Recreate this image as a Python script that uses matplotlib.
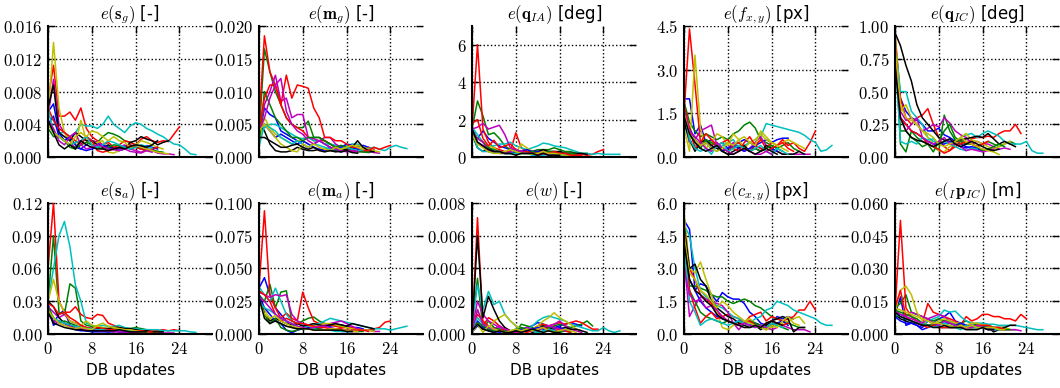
import matplotlib
matplotlib.use("Agg")
import matplotlib.pyplot as plt
from matplotlib.ticker import FuncFormatter, FixedLocator

plt.rcParams['mathtext.fontset'] = 'cm'
plt.rcParams['font.family'] = ['DejaVu Sans']

# colour order of the series (classic matplotlib cycle, used twice)
line_colors = ['#0000ff', '#008000', '#ff0000', '#00bfbf', '#bf00bf', '#bfbf00', '#000000',
               '#0000ff', '#008000', '#ff0000', '#00bfbf', '#bf00bf', '#bfbf00', '#000000']

x_ticks = [0, 8, 16, 24]
x_label = 'DB updates'

# ---- panel titles ----
titles = [r'$e(\mathbf{s}_g)$ [-]', r'$e(\mathbf{m}_g)$ [-]', r'$e(\mathbf{q}_{IA})$ [deg]',
          r'$e(f_{x,y})$ [px]', r'$e(\mathbf{q}_{IC})$ [deg]',
          r'$e(\mathbf{s}_a)$ [-]', r'$e(\mathbf{m}_a)$ [-]', r'$e(w)$ [-]',
          r'$e(c_{x,y})$ [px]', r'$e({}_I\mathbf{p}_{IC})$ [m]']

# ---- y tick values per panel ----
y_ticks_sg = [0, 0.004, 0.008, 0.012, 0.016]
y_ticks_mg = [0, 0.005, 0.010, 0.015, 0.020]
y_ticks_qia = [0, 2, 4, 6]
y_ticks_fxy = [0, 1.5, 3.0, 4.5]
y_ticks_qic = [0, 0.25, 0.50, 0.75, 1.00]
y_ticks_sa = [0, 0.03, 0.06, 0.09, 0.12]
y_ticks_ma = [0, 0.025, 0.050, 0.075, 0.100]
y_ticks_w = [0, 0.002, 0.004, 0.006, 0.008]
y_ticks_cxy = [0, 1.5, 3.0, 4.5, 6.0]
y_ticks_pic = [0, 0.015, 0.030, 0.045, 0.060]

# ---- series (unit factor per panel) ----
unit_sg = 1e-3
sg = [
    [5.5,6.5,3,2,1.5,1.2,1,1.5,2,1.8,1.2,1,1.1,1,1.3,1.5,1.2,1,1.4,1.2,1],
    [4,3,2.5,2,1.5,1.2,2,2.5,2,1.8,2.5,3,2.8,2.5,2,1.8,1.5,1.2,1,0.8,0.7,0.6],
    [7,11.2,5,5,5.5,4.5,6,3.5,2.5,2,1.5,1.8,1.2,1.5,2,1.8,1.5,2.2,2.5,2,1.8,2,1.9,2.8,3.7],
    [5,4.5,3,3,2.5,3,4,3.8,3.8,3.5,4,5,4,3.5,3,3.8,4.2,4,3.5,3.2,2.8,2.5,2,1.6,1.5,1,0.4,0.3],
    [5,9.5,4,3,2,1,1.5,2.5,2,1.8,1.5,1.2,1,1.2,1.5,1,0.8,0.6,0.9,0.8,0.5,0.4,0.4,0.3],
    [5,14,6,3,2,1.5,4.5,2,1.5,1.8,2,0.6,0.5,0.8,1,1.2,1.5,2,1.8,1.5,1.2,1],
    [6,8.8,3,2.5,2,3,2.5,2,2,1.5,1.2,1.5,1,1.2,1,1.8,2,2.5,2.2,2,1.5,1.8,2],
    [4,5,2.5,2,2.5,1.5,1,0.8,1,1.2,1.5,1.2,1,0.8,1,1.2,1.5,1.3,1,0.9,1.2],
    [3.5,2.5,2.5,2,1.2,1,1.5,1.8,1.5,1.2,1,1.2,1.5,1.4,1.2,1,1.2,1,0.8,0.8,0.7],
    [6,4.5,3.5,3,2.5,2,1.5,2.5,2,0.8,0.6,0.8,1,1.2,1,1.5,1.2,1,0.8,1,1.2],
    [6,3,2.5,2,1.5,1.8,2,2.5,1.5,1.2,1.5,2,1.8,1.5,1.2,1,1.2,1.5,1.3,1.1],
    [4.5,3.5,2,1.5,2.5,3,1.5,1,1.2,1.5,1.3,1,0.9,0.8,1,0.7,0.6,0.5,0.8,0.6],
    [4,3,2.5,2,1.5,2.5,3,2.5,3.2,3,2.5,2,2.5,2,1.8,1.2,1.5,1.2,1,0.8,0.6,0.5,0.4],
    [4.5,3,1.5,1,1.5,1,2,1.5,1.2,1,1,0.8,1,1.2,1,1.3,1.5,1.4,1.2,1.5,2],
]

unit_mg = 1e-3
mg = [
    [3,7.5,6.5,6,4,3.5,3,2.5,2,1.5,2,2.5,2,1.5,1,0.8,1,1.2,1.5,1.8,1.5],
    [3,16.5,13,10,8,6,5,4.5,4.5,5.5,3,3,2.5,2,1.5,1.2,1,1,0.8,0.8,0.7,0.8],
    [5,18.5,13,11,8,6,5,4.5,4,3,2.5,2.5,2.5,2,1.5,1.2,1,0.8,1,1.2,1.5,1.2],
    [3,4.5,5,5,4.5,4,3.5,3,2.8,3,2.5,2.5,2,2,1.8,1.5,1.8,2,2,1.5,1.3,1.5,1.2,1,1.5,1.8,1.5,1.3],
    [3,8,10,12.5,8.5,9,6,6.5,6.5,3,2.8,2.5,3,3,2,1.5,1.2,1,0.8,1,0.9,0.7,0.6],
    [2,6,4.5,3.5,3,2.5,2,2.5,2.5,2,1.5,1,1.2,1.5,1.2,1,1.2,1.5,1.8,1.5,1.2,1,0.8],
    [5,4,2,1,0.8,0.8,1,1.5,1.2,1,1,1.2,1,1,0.8,1,1.2,1.5,2.5,1.5,1,0.8],
    [4,5,4,3,3.5,3,2.5,2,2.5,2,1.5,1.2,1,1.5,1.2,1.5,2,1.8,1.2,1],
    [2,10,8,6,5,4,3,3,2.5,3,3,3,2.5,2,1.5,1.8,1.5,1.2,1,0.8,0.9],
    [4,9,11,11,8,12.5,9,11,10.8,10.5,7.5,6,3,3,2.5,2.5,2,1.5,1.5,1,1,1.5,1.2,1.5,1.8],
    [1.5,5,4.5,4,3,2.5,2,2.5,2,1.5,2,1.8,1.5,1.2,1,1.3,1.5,1.2,1,1.1],
    [4,6,9,11,12,7,5,4,3.5,2.5,2,2.5,2,1.5,1.2,1,0.8,1,0.9],
    [4,5,4,3,2,1.5,1,0.8,2,1.5,2,1.5,1.2,1,1.5,1.2,1.5,1.8,1.5,1.2],
    [3,3,2.5,2,1.5,1.5,1.8,2,1.5,1.2,1.5,1,0.8,1,0.9,0.8,1,0.7,0.6],
]

unit_qia = 1.0
qia = [
    [1.5,1,1.4,1,0.8,0.6,0.5,0.4,0.4,0.3,0.3,0.2,0.2,0.2,0.3,0.2,0.3,0.2,0.2,0.2],
    [1.5,3,2.2,1.2,1.3,1,0.6,0.4,0.3,0.3,0.3,0.3,0.4,0.4,0.4,0.5,0.4,0.3,0.3,0.2,0.2,0.2],
    [1.5,6,1.5,0.8,0.5,0.4,0.3,0.3,1.3,0.5,0.3,0.2,0.2,0.3,0.2,0.1,0.1,0.2,0.2,0.1,0.15,0.1,0.15,0.3,0.4],
    [1.6,1.2,0.8,0.6,0.6,0.7,0.7,0.8,0.6,0.5,0.4,0.5,0.6,0.75,0.7,0.6,0.55,0.5,0.4,0.3,0.2,0.2,0.15,0.2,0.15,0.15,0.15,0.15],
    [1.5,1.6,1.8,1.5,1.6,1.7,1.2,0.5,0.4,0.3,0.2,0.2,0.3,0.2,0.3,0.2,0.2,0.15,0.1,0.1,0.1],
    [1.4,1,0.8,0.6,0.5,0.3,0.2,0.2,0.2,0.7,0.5,0.3,0.2,0.2,0.2,0.2,0.1,0.1,0.1,0.1],
    [1.2,0.5,0.3,0.5,0.3,0.2,0.2,0.2,0.2,0.2,0.2,0.3,0.3,0.4,0.3,0.3,0.3,0.2,0.2,0.2,0.2,0.15],
    [1.2,0.8,0.6,0.4,0.3,0.3,0.2,0.2,0.3,0.3,0.4,0.3,0.3,0.2,0.2,0.2,0.2,0.15],
    [1.3,1,0.8,0.5,0.4,0.3,0.2,0.2,0.2,0.2,0.2,0.3,0.2,0.2,0.3,0.3,0.2,0.2,0.2,0.15],
    [1.8,2,1,0.6,0.9,0.5,0.6,0.7,0.4,0.3,0.3,0.2,0.2,0.2,0.2,0.3,0.2,0.2,0.1,0.1,0.1],
    [1.3,0.5,0.3,0.3,0.2,0.3,0.2,0.2,0.2,0.2,0.2,0.1,0.1,0.1,0.15,0.1,0.1,0.1],
    [1.2,1,0.8,0.3,0.3,0.3,0.2,0.3,0.4,0.3,0.2,0.2,0.1,0.2,0.1,0.1,0.1],
    [1.2,0.7,0.5,0.3,0.2,0.2,0.3,0.4,0.3,0.2,0.2,0.15,0.2,0.3,0.2,0.2,0.15,0.1],
    [1.5,0.8,0.6,0.4,0.3,0.3,0.2,0.2,0.1,0.2,0.2,0.2,0.1,0.2,0.1,0.1,0.1],
]

unit_fxy = 1.0
fxy = [
    [2,2,0.8,1.1,0.5,0.6,0.4,0.5,0.3,0.4,0.5,0.6,0.5,0.4,0.5,0.6,0.5,0.6,0.65,0.65],
    [1.9,1.2,0.9,0.7,0.8,0.7,0.6,0.7,0.6,0.8,0.9,1.1,1.2,1.0,0.6,0.5,0.4,0.3,0.4,0.5,0.3,0.2],
    [1.5,4.4,2.5,0.5,0.6,0.4,0.5,0.3,0.2,0.4,0.5,0.3,0.2,0.4,0.6,0.3,0.5,0.4,0.6,0.4,0.5,0.3,0.2,0.5,0.9],
    [1.2,0.5,0.4,0.3,0.6,0.3,0.2,0.4,0.5,0.6,0.3,0.4,0.5,0.6,0.7,1.15,1.1,1.05,1.0,0.95,0.9,0.85,0.75,0.6,0.5,0.2,0.25,0.4],
    [1.3,0.5,0.6,0.9,1.0,1.1,0.4,0.2,0.3,0.5,0.3,0.2,0.3,0.5,0.7,0.4,0.3,0.2,0.1,0.1,0.1,0.1,0.1,0.1],
    [1,0.2,3.5,1,0.3,0.5,0.8,0.7,0.4,0.8,0.6,0.3,0.5,0.6,0.8,0.6,0.5,0.4,0.5,0.6,0.5,0.4,0.3],
    [1.2,0.6,0.2,0.5,0.6,0.4,0.3,0.2,0.1,0.2,0.3,0.4,0.2,0.3,0.2,0.4,0.3,0.2,0.1,0.1,0.1,0.2,0.1],
    [1.5,1,0.6,0.4,0.5,0.3,0.4,0.2,0.3,0.4,0.3,0.2,0.3,0.4,0.3,0.2,0.3,0.2],
    [1.4,0.8,0.5,0.3,0.6,0.5,0.4,0.3,0.2,0.3,0.4,0.3,0.2,0.3,0.2,0.3,0.4,0.3,0.2],
    [1.8,1,0.3,0.5,0.8,0.6,0.4,0.5,0.6,0.3,0.2,0.5,0.7,0.4,0.3,0.2,0.3,0.4,0.5,0.3,0.2],
    [1.6,0.6,0.3,0.2,0.3,0.1,0.4,0.5,0.2,0.3,0.4,0.3,0.2,0.3,0.4,0.2,0.1,0.3,0.2,0.1],
    [1.6,0.9,0.7,0.5,0.3,0.2,0.5,0.3,0.2,0.1,0.2,0.3,0.2,0.1,0.1,0.2,0.1],
    [1.5,0.8,0.6,0.4,0.5,0.3,0.2,0.3,0.5,0.4,0.6,0.7,0.5,0.4,0.9,0.7,0.5,0.4,0.3,0.2],
    [1.4,0.8,0.5,0.3,0.2,0.3,0.4,0.2,0.1,0.1,0.2,0.3,0.2,0.1,0.2,0.3,0.2,0.1],
]

unit_qic = 1.0
qic = [
    [0.9,0.45,0.35,0.3,0.28,0.25,0.2,0.2,0.22,0.17,0.15,0.12,0.1,0.08,0.07,0.06,0.05,0.06,0.05],
    [0.9,0.1,0.04,0.2,0.15,0.12,0.1,0.08,0.05,0.32,0.2,0.13,0.1,0.15,0.1,0.08,0.1,0.12,0.1,0.08,0.1,0.12,0.1],
    [0.95,0.45,0.3,0.25,0.3,0.32,0.37,0.25,0.15,0.08,0.05,0.1,0.12,0.1,0.14,0.15,0.15,0.16,0.15,0.18,0.2,0.2,0.25,0.18],
    [0.9,0.5,0.5,0.35,0.3,0.25,0.15,0.12,0.1,0.12,0.1,0.1,0.15,0.17,0.18,0.15,0.18,0.2,0.18,0.16,0.12,0.1,0.1,0.1,0.12,0.05,0.03,0.03],
    [0.8,0.35,0.28,0.3,0.25,0.2,0.22,0.25,0.23,0.3,0.26,0.2,0.17,0.15,0.1,0.12,0.1,0.1,0.08,0.06,0.07,0.06],
    [0.95,0.35,0.4,0.3,0.25,0.2,0.15,0.1,0.05,0.04,0.08,0.1,0.15,0.18,0.13,0.12,0.1,0.08,0.06,0.08,0.1,0.12],
    [0.95,0.85,0.7,0.58,0.4,0.3,0.25,0.2,0.15,0.13,0.12,0.12,0.13,0.14,0.15,0.16,0.15,0.18,0.14,0.1,0.12,0.1,0.08],
    [0.85,0.3,0.25,0.2,0.18,0.15,0.12,0.1,0.1,0.1,0.12,0.1,0.08,0.07,0.08,0.07,0.06],
    [0.85,0.2,0.2,0.15,0.12,0.08,0.1,0.04,0.12,0.2,0.25,0.15,0.12,0.1,0.1,0.08,0.05,0.06,0.08,0.1,0.08],
    [0.9,0.3,0.25,0.2,0.18,0.15,0.1,0.08,0.06,0.03,0.05,0.08,0.1,0.12,0.1,0.08,0.1,0.12],
    [0.8,0.12,0.1,0.12,0.1,0.15,0.13,0.14,0.1,0.12,0.1,0.08,0.06,0.05,0.07,0.06],
    [0.75,0.3,0.2,0.25,0.3,0.15,0.12,0.1,0.12,0.15,0.1,0.1,0.08,0.05,0.06,0.05,0.04,0.05,0.06],
    [0.85,0.4,0.3,0.28,0.25,0.2,0.18,0.15,0.1,0.08,0.1,0.12,0.15,0.12,0.1,0.08,0.06,0.05,0.04,0.02],
    [0.7,0.3,0.2,0.15,0.13,0.12,0.1,0.08,0.1,0.12,0.14,0.1,0.08,0.1,0.12,0.1,0.08,0.06,0.05,0.06],
]

unit_sa = 1e-3
sa = [
    [28,10,18,22,8,5,4,3,3,3,3,2,2,3,2,2,2,2,1.5],
    [30,90,20,18,46,42,12,8,7,6,5,5,6,5,5,5,6,5,4,3,3,2],
    [60,120,30,20,20,25,18,15,14,18,17,10,8,6,5,4,4,3,4,3,3,4,3,4,3],
    [30,60,90,103,80,45,30,10,8,7,8,7,7,8,6,5,5,4,4,4,4,3,3,3,3,3,2,1.5],
    [25,20,15,18,12,10,8,6,5,4,3,3,3,2,2,2,2,2,1.5,1.5,1,1,1,1],
    [30,50,30,20,12,10,8,12,8,7,6,5,5,6,4,3,3,3,2,2,2],
    [30,25,15,10,8,7,6,5,5,5,5,5,6,6,5,5,4,3,3,2,2,2],
    [25,8,12,10,6,4,3,3,2,2,2,2,3,2,2,2,2,1.5],
    [25,15,10,12,10,8,6,5,5,4,4,3,4,5,4,3,2,2,2],
    [28,25,18,20,15,12,8,6,5,6,5,4,4,5,4,3,3,3,2,2],
    [20,15,12,10,8,7,6,5,5,4,4,3,3,4,3,3,2,2,2],
    [18,12,10,8,7,5,5,4,4,3,3,3,2,2,2,1.5,1.5,1],
    [22,15,10,8,6,5,6,5,4,8,10,7,6,5,4,4,3,2,2],
    [20,10,8,6,5,4,4,3,3,3,3,3,3,4,3,2,2,2,2],
]

unit_ma = 1e-3
ma = [
    [35,43,30,20,15,10,5,8,7,6,5,5,6,6,7,7,6,5,5,4],
    [30,25,38,20,32,33,10,8,10,12,13,10,8,7,6,6,5,4,4,3,3,3],
    [35,94,30,20,12,16,12,10,32,20,10,8,8,7,6,5,5,5,4,3,3,4,5,9,10],
    [36,30,25,35,25,15,10,8,7,6,7,8,10,12,11,10,9,8,7,6,5,4,4,4,3,4,5,6],
    [32,30,28,30,29,30,15,10,8,7,6,6,7,8,9,10,8,6,4,3,3,2,2],
    [30,18,12,10,8,6,5,4,4,5,6,7,8,8,7,6,5,4,3,3,3,2],
    [30,15,10,12,10,8,7,8,6,7,8,7,6,7,8,7,6,8,7,6,5,4],
    [30,20,15,10,8,3,1,3,4,5,4,4,3,3,3,2,2,2],
    [28,15,8,12,5,3,2,3,5,4,4,4,3,3,3,3,2,2,2,2],
    [33,30,25,15,10,12,10,8,8,7,6,5,5,4,4,4,3,3,3,3,2],
    [25,20,18,15,12,10,8,6,5,4,4,3,3,3,2,2,2,2],
    [28,25,20,15,12,10,8,6,5,4,5,6,6,5,4,3,3,2,2],
    [25,15,12,14,10,8,6,5,4,4,3,3,3,4,4,3,3,2,2],
    [28,12,8,10,8,6,5,4,4,4,3,3,3,3,3,3,2,2],
]

unit_w = 1e-3
w = [
    [0.1,0.5,0.3,0.2,0.1,0.2,0.3,0.2,0.1,0.3,0.4,0.5,0.7,0.6,0.5,0.4,0.5,0.6,0.7,0.6,0.5],
    [0.5,3.4,0.3,0.8,0.4,0.3,0.1,0.2,0.1,0.6,0.5,0.4,0.3,0.6,0.4,0.5,0.6,0.5,0.4,0.5,0.6,0.8,0.5],
    [0.2,7.1,0.5,1.0,0.8,0.5,0.3,0.2,0.1,0.3,0.2,0.3,0.5,0.6,0.5,0.6,0.7,0.6,0.7,0.8,0.7,0.5,0.3,0.3],
    [0.5,3.0,1.5,2.6,1.8,2.0,1.2,0.8,0.5,0.3,0.2,0.5,0.8,1.0,1.1,1.0,0.9,0.8,0.6,0.5,0.4,0.3,0.2,0.2,0.4,0.2,0.1,0.2],
    [0.3,2.0,1.2,0.8,0.6,0.4,0.3,0.2,0.1,0.2,0.4,0.3,0.2,0.4,0.5,0.6,0.8,0.5,0.3,0.2,0.1],
    [0.2,1.5,0.5,0.3,0.8,1.0,1.2,0.8,0.5,0.3,0.2,0.3,0.5,0.8,1.0,1.3,1.0,0.8,0.6,0.3,0.2],
    [0.3,6.0,1.0,2.3,1.5,0.8,0.4,0.2,0.1,0.2,0.3,0.1,0.2,0.5,0.3,0.4,0.3,0.4,0.3,0.3,0.2,0.1],
    [0.2,0.8,0.4,0.3,0.2,0.1,0.2,0.1,0.2,0.3,0.2,0.3,0.4,0.3,0.2,0.3,0.4,0.3,0.2],
    [0.3,0.7,0.5,0.3,0.2,0.3,0.2,0.1,0.2,0.4,0.3,0.2,0.1,0.2,0.3,0.2,0.1,0.2,0.1],
    [0.4,1.2,0.8,0.5,0.3,0.2,0.3,0.2,0.1,0.2,0.1,0.2,0.3,0.4,0.3,0.2,0.3,0.2,0.1],
    [0.3,1.0,0.6,0.4,0.3,0.2,0.1,0.2,0.3,0.2,0.3,0.2,0.1,0.2,0.3,0.2,0.1],
    [0.2,1.5,0.6,0.4,0.3,0.5,0.3,0.2,0.1,0.2,0.3,0.2,0.3,0.4,0.5,0.4,0.3,0.2],
    [0.1,0.6,0.1,0.5,0.3,0.2,0.1,0.2,0.3,0.2,0.3,0.2,0.3,0.4,0.2,0.1,0.2,0.3,0.2,0.1],
    [0.2,0.6,0.3,0.2,0.1,0.2,0.1,0.1,0.2,0.1,0.2,0.3,0.2,0.1,0.2,0.1,0.1],
]

unit_cxy = 1.0
cxy = [
    [5.2,4.8,2.0,2.3,2.2,1.8,1.5,1.9,1.7,1.6,1.6,1.4,1.0,0.8,0.5,0.4,0.6,0.8,0.7,0.8,0.7],
    [5.5,2.2,2.2,2.1,2.0,1.8,1.7,1.7,1.5,1.4,1.5,1.6,1.5,1.3,1.2,1.0,0.8,0.7,0.6,0.5,0.4,0.3,0.3],
    [5.3,3.0,2.5,1.8,1.6,1.4,1.0,0.8,0.9,0.8,0.7,0.5,0.8,0.9,1.0,0.6,0.8,0.7,0.6,0.7,0.8,1.1,1.1,1.5,1.1],
    [5.0,4.5,3.0,2.0,1.7,1.5,1.3,1.2,1.0,0.8,0.7,0.6,0.5,0.7,0.8,1.1,1.2,1.5,1.4,1.3,1.1,1.0,0.9,0.8,0.7,0.5,0.4,0.4],
    [3.5,0.8,1.3,1.7,1.6,1.5,1.4,1.3,1.0,0.5,0.2,0.5,0.6,0.4,0.3,0.2,0.4,0.5,0.4,0.3,0.2,0.2,0.2,0.1],
    [5.5,3.0,2.8,3.3,2.5,1.8,1.0,0.3,0.2,0.4,0.5,0.6,0.7,0.5,0.4,0.2,0.3,0.4,0.5,0.6,0.7,0.8,0.5],
    [5.0,3.0,3.2,2.5,2.2,1.5,1.2,1.0,0.8,0.7,0.5,0.4,0.3,0.4,0.2,0.4,0.6,0.7,0.8,0.7,0.1,0.3,0.3],
    [4.5,2.5,2.0,1.5,1.2,1.0,0.8,0.7,0.6,0.5,0.6,0.5,0.4,0.5,0.4,0.3,0.4,0.5,0.6,0.4],
    [5.0,2.0,1.5,1.0,0.8,0.7,0.6,0.5,0.6,0.5,0.4,0.5,0.6,0.5,0.4,0.3,0.5,0.4,0.3,0.2],
    [4.8,2.0,1.2,0.5,0.8,1.0,0.7,0.8,0.6,0.5,0.4,0.5,0.6,0.4,0.3,0.5,0.6,0.5,0.4,0.5],
    [4.0,1.5,1.0,0.4,0.6,0.7,0.6,0.5,0.4,0.5,0.6,0.5,0.4,0.3,0.4,0.3,0.5,0.4,0.3],
    [3.0,1.8,1.5,1.6,1.2,1.3,1.1,0.8,0.6,0.5,0.4,0.5,0.4,0.3,0.4,0.3,0.2,0.3],
    [4.5,2.8,2.5,2.0,1.8,1.5,1.2,1.5,1.3,1.0,0.8,0.6,0.5,0.4,0.3,0.2,0.4,0.3,0.6,0.8,0.5,0.4],
    [4.2,2.5,2.0,1.8,1.5,1.3,0.9,0.7,0.6,0.5,0.4,0.3,0.3,0.4,0.3,0.5,0.6,0.5,0.4],
]

unit_pic = 1e-3
pic = [
    [9,17,4,5,4,3,6,5,7,8,10,6,5,4,4,3,3,4,3,3,3],
    [12,14,18,10,9,8,7,6,7,6,6,5,5,6,5,4,4,4,3,3,3,2,2],
    [10,52,12,8,6,5,14,10,9,8,7,6,4,8,6,7,9,9,8,8,7,7,6,9,7],
    [8,8,7,6,5,4,6,7,8,11,10,10.5,8,6,5,5,5,4.5,4.5,4,4,4,4,3.5,3,2.5,2,2],
    [11,9,8,10,9,8,7,8,9,8,6,5,4,4,4,3,3,3,2,2,2,2,2,1.5],
    [10,20,22,18,10,6,4,5,6,7,6,5,5,4,5,5,4,4,3,3,3,2],
    [9,7,6,5,5,4,4,4,3,3,3,3,3,3,3,3,3,3,1,2,3,4,4],
    [8,6,5,5,4,2,3,4,4,5,5,4,5,4,3,4,3,3,3],
    [11,10,9,8,7,5,4,4,5,6,5,4,4,3,3,3,3,3,3,2,2,2],
    [12,20,8,6,5,4,3,4,3,3,3,3,3,3,3,4,4,4,3,3,2],
    [9,8,7,6,5,5,4,3,4,5,4,3,2,4,3,3,3,2,2,2],
    [10,9,8,7,6,5,7,5,4,6,5,4,3,3,3,4,3,2,2],
    [12,11,10,9,8,7,6,5,5,4,4,3,4,3,4,3,3,3,3,2,2],
    [10,8,7,6,5,4,4,3,3,4,3,3,3,2,2,2,3,2,2],
]

panels = [
    (sg, unit_sg, y_ticks_sg, 3),
    (mg, unit_mg, y_ticks_mg, 3),
    (qia, unit_qia, y_ticks_qia, 0),
    (fxy, unit_fxy, y_ticks_fxy, 1),
    (qic, unit_qic, y_ticks_qic, 2),
    (sa, unit_sa, y_ticks_sa, 2),
    (ma, unit_ma, y_ticks_ma, 3),
    (w, unit_w, y_ticks_w, 3),
    (cxy, unit_cxy, y_ticks_cxy, 1),
    (pic, unit_pic, y_ticks_pic, 3),
]
y_tops = [0.016, 0.020, 7.0, 4.5, 1.0, 0.12, 0.10, 0.008, 6.0, 0.060]

fig = plt.figure(figsize=(10.6, 3.88), dpi=100)
lefts = [0.0453, 0.2443, 0.4453, 0.6453, 0.8443]
bottoms = [0.595, 0.139]
width, height = 0.155, 0.338

for i, (series, unit, yt, dec) in enumerate(panels):
    r, c = divmod(i, 5)
    ax = fig.add_axes([lefts[c], bottoms[r], width, height])
    for col, vals in zip(line_colors, series):
        xs = list(range(len(vals)))
        ax.plot(xs, [v * unit for v in vals], color=col, lw=1.1, solid_joinstyle='round')
    ax.set_xlim(0, 30)
    ax.set_ylim(0, y_tops[i])
    ax.xaxis.set_major_locator(FixedLocator(x_ticks))
    ax.yaxis.set_major_locator(FixedLocator(yt))
    ax.yaxis.set_major_formatter(FuncFormatter(lambda v, p, d=dec: '$%.*f$' % (d, v)))
    ax.xaxis.set_major_formatter(FuncFormatter(lambda v, p: '$%d$' % v))
    ax.grid(True, color='black', linestyle=':', linewidth=1.0)
    for s in ['top', 'right']:
        ax.spines[s].set_visible(False)
    for s in ['left', 'bottom']:
        ax.spines[s].set_linewidth(1.5)
    ax.tick_params(direction='in', top=True, right=True, length=5, width=1.0,
                   labelsize=12, pad=4)
    ax.set_title(titles[i], fontsize=12, pad=5)
    if r == 0:
        ax.tick_params(labelbottom=False)
    else:
        ax.set_xlabel(x_label, fontsize=11, labelpad=4)

fig.savefig('out.png', dpi=100)
